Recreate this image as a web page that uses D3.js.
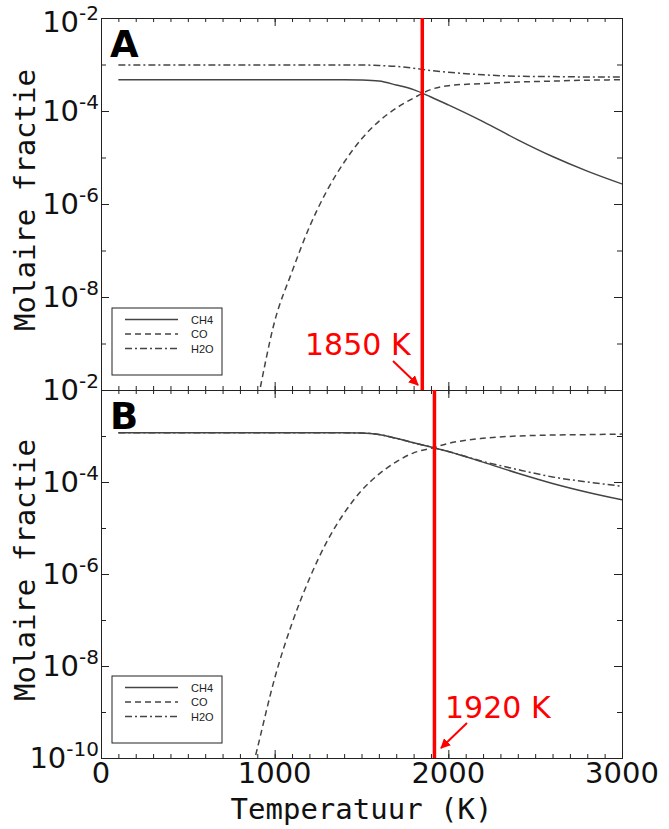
<!DOCTYPE html>
<html>
<head>
<meta charset="utf-8">
<script src="https://cdn.jsdelivr.net/npm/d3@7"></script>
<style>
  body { margin: 0; background: #fff; }
  text { font-family: "DejaVu Sans", sans-serif; }
</style>
</head>
<body>
<svg width="669" height="829"></svg>
<script>
var temps = [100, 850, 900, 1000, 1100, 1200, 1300, 1400, 1500, 1600, 1700, 1800, 1900, 2000, 2200, 2400, 2600, 2800, 3000];

// panel A molar fractions
var ch4A = [4.68e-4, 4.68e-4, 4.68e-4, 4.68e-4, 4.68e-4, 4.68e-4, 4.68e-4, 4.68e-4, 4.62e-4, 4.4e-4, 3.63e-4, 2.88e-4, 2.0e-4, 1.35e-4, 5.9e-5, 2.4e-5, 1.05e-5, 5.1e-6, 2.7e-6];
var coA  = [null, 6.3e-12, 5.4e-11, 3.0e-9, 3.5e-8, 3.2e-7, 1.9e-6, 7.9e-6, 2.5e-5, 6.0e-5, 1.15e-4, 1.9e-4, 2.9e-4, 3.5e-4, 3.9e-4, 4.2e-4, 4.4e-4, 4.6e-4, 4.7e-4];
var h2oA = [9.8e-4, 9.8e-4, 9.8e-4, 9.8e-4, 9.8e-4, 9.8e-4, 9.8e-4, 9.8e-4, 9.8e-4, 9.5e-4, 9.1e-4, 8.3e-4, 7.4e-4, 6.8e-4, 6.0e-4, 5.6e-4, 5.5e-4, 5.4e-4, 5.4e-4];

// panel B molar fractions
var ch4B = [1.17e-3, 1.17e-3, 1.17e-3, 1.17e-3, 1.17e-3, 1.17e-3, 1.17e-3, 1.17e-3, 1.16e-3, 1.08e-3, 8.9e-4, 7.1e-4, 5.75e-4, 4.6e-4, 2.7e-4, 1.55e-4, 9.3e-5, 6.0e-5, 4.1e-5];
var coB  = [null, 2.7e-11, 1.6e-10, 5.4e-9, 8.5e-8, 7.9e-7, 5.0e-6, 2.1e-5, 6.5e-5, 1.48e-4, 2.75e-4, 4.3e-4, 5.4e-4, 6.9e-4, 8.9e-4, 1.0e-3, 1.05e-3, 1.07e-3, 1.10e-3];
var h2oB = [1.17e-3, 1.17e-3, 1.17e-3, 1.17e-3, 1.17e-3, 1.17e-3, 1.17e-3, 1.17e-3, 1.16e-3, 1.08e-3, 8.9e-4, 7.1e-4, 5.75e-4, 4.6e-4, 2.8e-4, 1.86e-4, 1.29e-4, 1.0e-4, 8.1e-5];

var seriesNames = ["CH4", "CO", "H2O"];
var panelLabels = ["A", "B"];
var transitions = [1850, 1920];
var transitionLabels = ["1850 K", "1920 K"];
var xTicks = [0, 1000, 2000, 3000];
var yExpA = [-2, -4, -6, -8];
var yExpB = [-2, -4, -6, -8, -10];

var svg = d3.select("svg");
var left = 101, right = 622;
var ink = "#444";
var dashes = [null, "6,4", "7,3,2,3"];

var x = d3.scaleLinear().domain([0, 3000]).range([left, right]);

var panels = [
  { y: d3.scaleLog().domain([1e-10, 1e-2]).range([390, 18]), series: [ch4A, coA, h2oA], exps: yExpA },
  { y: d3.scaleLog().domain([1e-10, 1e-2]).range([758, 390]), series: [ch4B, coB, h2oB], exps: yExpB }
];

var minorX = d3.range(0, 3001, 100);
var yMajor = [1e-2, 1e-4, 1e-6, 1e-8, 1e-10];
var yMinor = [1e-3, 1e-5, 1e-7, 1e-9];

panels.forEach(function (p, i) {
  var y = p.y;
  var top = y.range()[1], bottom = y.range()[0];
  var g = svg.append("g");

  g.append("clipPath").attr("id", "clip" + i)
    .append("rect").attr("x", left).attr("y", top)
    .attr("width", right - left).attr("height", bottom - top);

  // curves
  var line = d3.line()
    .defined(function (d) { return d[1] != null; })
    .x(function (d) { return x(d[0]); })
    .y(function (d) { return y(d[1]); })
    .curve(d3.curveMonotoneX);

  p.series.forEach(function (vals, k) {
    g.append("path")
      .datum(temps.map(function (t, j) { return [t, vals[j]]; }))
      .attr("clip-path", "url(#clip" + i + ")")
      .attr("d", line)
      .attr("fill", "none")
      .attr("stroke", ink)
      .attr("stroke-width", 1.5)
      .attr("stroke-dasharray", dashes[k]);
  });

  // axes with inward ticks
  function ax(axis, tr, size, vals) {
    var a = g.append("g").attr("transform", tr)
      .call(axis.tickValues(vals).tickSize(size).tickFormat(""));
    a.select(".domain").attr("stroke", "#222");
    a.selectAll(".tick line").attr("stroke", "#222");
  }
  ax(d3.axisBottom(x), "translate(0," + bottom + ")", -4, minorX);
  ax(d3.axisBottom(x), "translate(0," + bottom + ")", -8, xTicks);
  ax(d3.axisTop(x), "translate(0," + top + ")", -4, minorX);
  ax(d3.axisTop(x), "translate(0," + top + ")", -8, xTicks);
  ax(d3.axisLeft(y), "translate(" + left + ",0)", -8, yMajor);
  ax(d3.axisLeft(y), "translate(" + left + ",0)", -5, yMinor);
  ax(d3.axisRight(y), "translate(" + right + ",0)", -8, yMajor);
  ax(d3.axisRight(y), "translate(" + right + ",0)", -5, yMinor);

  // y tick labels 10^n
  p.exps.forEach(function (e, k) {
    var t = g.append("text")
      .attr("x", left - 2)
      .attr("y", y(Math.pow(10, e)) + (i === 0 && k === 0 ? 14 : 10))
      .attr("text-anchor", "end")
      .attr("fill", "#111");
    t.append("tspan").attr("font-size", 29).text("10");
    t.append("tspan").attr("font-size", 20).attr("dy", -12).text(String(e));
  });

  // y label
  svg.append("text")
    .attr("transform", "translate(35," + ((top + bottom) / 2 - 4) + ") rotate(-90)")
    .attr("text-anchor", "middle")
    .style("font-family", "'DejaVu Sans Mono', monospace")
    .attr("font-size", 29)
    .attr("fill", "#111")
    .text("Molaire fractie");

  // panel letter
  g.append("text")
    .attr("x", left + 9)
    .attr("y", top + 39)
    .attr("font-size", 37)
    .attr("font-weight", "bold")
    .attr("fill", "#000")
    .text(panelLabels[i]);

  // legend
  var lg = g.append("g").attr("transform", "translate(" + (left + 11) + "," + (bottom - 82) + ")");
  lg.append("rect").attr("width", 110).attr("height", 67)
    .attr("fill", "#fff").attr("stroke", "#222").attr("stroke-width", 1);
  seriesNames.forEach(function (n, k) {
    var yy = 11.5 + k * 14.5;
    lg.append("line").attr("x1", 13).attr("x2", 66).attr("y1", yy).attr("y2", yy)
      .attr("stroke", ink).attr("stroke-width", 1.5)
      .attr("stroke-dasharray", dashes[k]);
    lg.append("text").attr("x", 79).attr("y", yy + 4)
      .style("font-family", "'Liberation Sans', Arial, sans-serif")
      .attr("font-size", 11).attr("fill", "#222").text(n);
  });

  // transition line
  var tx = x(transitions[i]);
  g.append("line")
    .attr("x1", tx).attr("x2", tx).attr("y1", top).attr("y2", bottom)
    .attr("stroke", "#ff0000").attr("stroke-width", 3.5);
});

// arrow marker
svg.append("defs").append("marker")
  .attr("id", "arr").attr("viewBox", "0 0 10 10")
  .attr("refX", 9).attr("refY", 5)
  .attr("markerWidth", 5).attr("markerHeight", 5)
  .attr("orient", "auto")
  .append("path").attr("d", "M0,0L10,5L0,10z").attr("fill", "#ff0000");

// annotations
var ann = [
  { tx: 305, ty: 355, ax1: 393, ay1: 361, ax2: 418, ay2: 385 },
  { tx: 445, ty: 718, ax1: 467, ay1: 723, ax2: 441, ay2: 748 }
];
ann.forEach(function (a, i) {
  svg.append("text").attr("x", a.tx).attr("y", a.ty)
    .attr("font-size", 30).attr("fill", "#ff0000")
    .text(transitionLabels[i]);
  svg.append("line")
    .attr("x1", a.ax1).attr("y1", a.ay1).attr("x2", a.ax2).attr("y2", a.ay2)
    .attr("stroke", "#ff0000").attr("stroke-width", 2)
    .attr("marker-end", "url(#arr)");
});

// x tick labels
svg.selectAll(".xl").data(xTicks).enter().append("text")
  .attr("x", function (d) { return x(d); })
  .attr("y", 783)
  .attr("text-anchor", "middle")
  .attr("font-size", 29)
  .attr("fill", "#111")
  .text(function (d) { return d; });

// x label
svg.append("text")
  .attr("x", (left + right) / 2)
  .attr("y", 819)
  .attr("text-anchor", "middle")
  .style("font-family", "'DejaVu Sans Mono', monospace")
  .attr("font-size", 29)
  .attr("fill", "#111")
  .text("Temperatuur (K)");
</script>
</body>
</html>
